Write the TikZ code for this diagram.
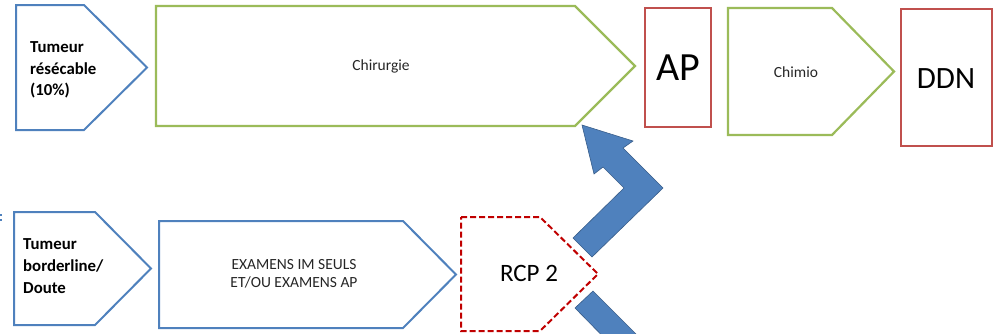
\documentclass[tikz,border=0pt]{standalone}
\usepackage{fontspec}
\setmainfont{Carlito}
\definecolor{oblue}{HTML}{4F81BD}
\definecolor{oblued}{HTML}{385D8A}
\definecolor{ogreen}{HTML}{9BBB59}
\definecolor{ored}{HTML}{C0504D}
\definecolor{dred}{HTML}{C00000}
\definecolor{txt}{HTML}{262626}
\begin{document}
\begin{tikzpicture}[x=1pt,y=-1pt,
  bluebox/.style={draw=oblue,line width=2pt,line join=miter},
  greenbox/.style={draw=ogreen,line width=2.2pt,line join=miter},
  redbox/.style={draw=ored,line width=1.9pt},
  rcpbox/.style={draw=dred,line width=2pt,dash pattern=on 6pt off 3pt},
  blockarrow/.style={fill=oblue,draw=oblued,line width=0.6pt,line join=miter},
  small/.style={font=\fontsize{15.5}{18}\selectfont,text=txt,align=center,inner sep=0pt},
  lbl/.style={font=\bfseries\fontsize{16.8}{21.5}\selectfont,text=black,align=left,inner sep=0pt,anchor=west}]
\useasboundingbox (0,0) rectangle (994,333);
\clip (0,0) rectangle (994,333);
% top row
\draw[bluebox] (16,5) -- (84,5) -- (147,67.5) -- (84,130) -- (16,130) -- cycle;
\node[lbl] (res) at (30,70) {Tumeur\\ r\'es\'ecable\\ (10\%)};
\draw[greenbox] (156,6) -- (575,6) -- (635,66) -- (575,126) -- (156,126) -- cycle;
\node[small] (chir) at (381,66) {Chirurgie};
\draw[redbox] (645,8) rectangle (711,127);
\node[font=\fontsize{40}{44}\selectfont,inner sep=0pt] (ap) at (678,68) {AP};
\draw[greenbox] (728,8) -- (832,8) -- (894,71.5) -- (832,135) -- (728,135) -- cycle;
\node[small] (chimio) at (796,72) {Chimio};
\draw[redbox] (901,9) rectangle (992,146);
\node[font=\fontsize{31}{34}\selectfont,inner sep=0pt] (ddn) at (946,79) {DDN};
% bottom row
\draw[bluebox] (14,212) -- (95,212) -- (151,268.5) -- (95,325) -- (14,325) -- cycle;
\node[lbl,font=\bfseries\fontsize{16.8}{22}\selectfont] (bord) at (23,266) {Tumeur\\ borderline/\\ Doute};
\draw[bluebox] (159,221) -- (403,221) -- (456,274.5) -- (403,328) -- (159,328) -- cycle;
\node[small] (exam) at (294,274) {EXAMENS IM SEULS\\ ET/OU EXAMENS AP};
\draw[rcpbox] (461,217) -- (540,217) -- (598,274) -- (540,331) -- (461,331) -- cycle;
\node[font=\fontsize{25}{28}\selectfont,inner sep=0pt] (rcp) at (529,273) {RCP 2};
% block arrows
\draw[blockarrow] (573,238) -- (624,188) -- (603,167) -- (594,174) -- (582,125)
  -- (633,141) -- (623,148) -- (663,188) -- (592,257) -- cycle;
\draw[blockarrow] (575,308) -- (593,291) -- (650,348) -- (632,366) -- cycle;
% fragment at left edge
\fill[oblue] (0,213.5) rectangle (2,215.5);
\fill[oblue] (0,218.5) rectangle (2,220.5);
\end{tikzpicture}
\end{document}
